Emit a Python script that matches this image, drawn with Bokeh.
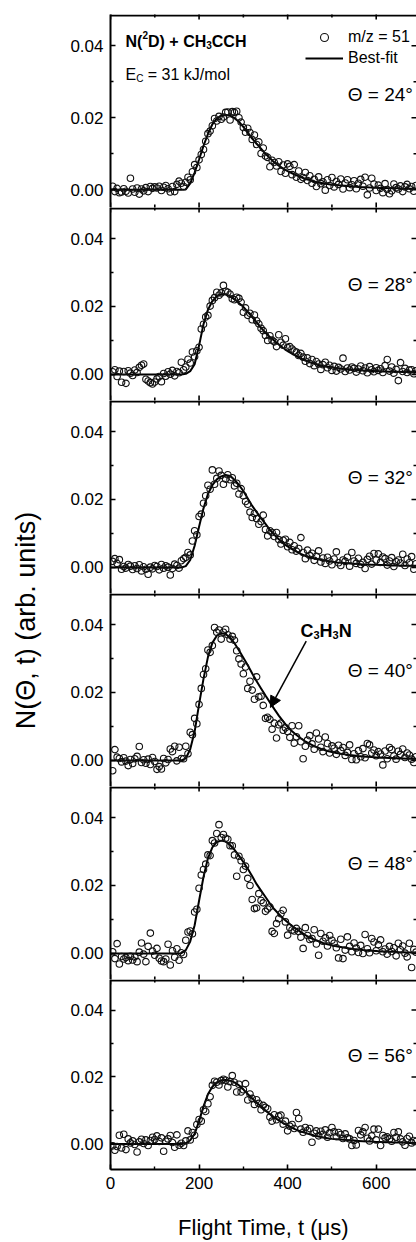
import math
from bokeh.plotting import figure
from bokeh.layouts import column, row
from bokeh.models import (Range1d, FixedTicker, PrintfTickFormatter, BoxAnnotation,
                          Legend, LegendItem, Arrow, NormalHead, Label)
from bokeh.core.properties import value
from bokeh.embed import file_html
from bokeh.resources import INLINE

FONT = "Liberation Sans"

# ---------------- data (signal values in units of 1e-3, arb. units) ----------------
t_data = list(range(5, 695, 5))      # flight time of data channels, µs (138)
t_fit = list(range(0, 700, 10))      # flight time of best-fit curve, µs (70)

angles = ["24", "28", "32", "40", "48", "56"]

data_24 = [1.0, -0.5, 0.4, -0.8, -0.6, 0.3, -0.4, -0.9, 3.2, 0.2,
           -0.7, 0.5, -1.2, 0.2, -0.3, 0.6, -0.5, 0.9, 0.4, 0.8,
           0.5, 1.0, -0.2, 0.7, 1.2, 0.3, -0.6, 0.9, -0.5, 1.5,
           2.4, 1.8, 0.9, 2.1, 3.5, 2.8, 5.0, 7.0, 6.2, 8.3,
           9.8, 11.2, 13.5, 15.6, 16.3, 17.8, 19.8, 19.1, 20.4, 19.6,
           20.2, 21.5, 21.6, 19.4, 21.7, 21.5, 21.8, 20.0, 18.8, 17.3,
           16.0, 17.1, 15.9, 14.0, 15.2, 12.6, 13.3, 10.1, 11.6, 9.4,
           9.0, 6.4, 8.2, 7.6, 6.6, 7.8, 5.1, 6.9, 4.6, 7.2,
           6.5, 4.2, 7.0, 3.5, 5.2, 2.9, 3.4, 4.8, 2.6, 3.9,
           1.8, 2.9, 0.9, 3.6, 1.7, 2.2, -0.1, 2.8, 1.2, 3.4,
           0.8, 2.3, 1.5, 3.0, 0.2, 1.9, 2.8, 0.6, 1.4, 2.5,
           0.3, 1.8, 2.9, 1.0, 3.5, -1.4, 0.5, 3.2, 1.6, -0.2,
           1.3, 0.4, -0.8, 1.7, 0.1, -1.1, -0.3, 1.6, 0.6, 0.2,
           1.1, -0.5, 0.8, 1.5, 0.3, 0.9, -0.4, 1.2]
data_28 = [0.8, 1.4, -0.6, 1.0, -2.3, 0.9, -2.6, 1.1, 0.4, -0.3,
           1.3, 0.6, 2.1, 2.7, 3.1, -1.4, -1.9, -2.4, -2.8, -2.2,
           -1.3, -0.6, -2.1, 0.3, -0.5, 0.8, 0.1, 1.2, -0.4, 0.9,
           0.5, 3.6, 1.4, 2.2, 4.5, 3.4, 6.6, 5.2, 7.0, 8.0,
           13.4, 14.8, 16.9, 17.4, 20.1, 21.8, 22.6, 24.2, 23.3, 24.0,
           26.2, 24.5, 24.2, 23.6, 22.3, 22.0, 22.7, 22.4, 21.3, 18.3,
           19.6, 17.4, 18.0, 16.1, 17.5, 15.8, 14.9, 13.6, 12.9, 11.5,
           10.0, 11.4, 10.1, 9.6, 8.2, 11.7, 9.5, 8.6, 10.5, 7.9,
           8.2, 7.5, 6.9, 6.6, 5.6, 6.2, 5.1, 3.9, 4.9, 3.2,
           4.4, 2.6, 3.8, 3.1, 1.5, 2.9, 3.6, 2.0, 2.7, 1.2,
           2.4, 1.0, 2.1, 1.6, 4.8, 0.9, 1.9, 1.3, 2.2, 1.8,
           0.7, 1.6, 2.5, 1.1, 1.9, 0.5, 2.3, 1.4, 0.8, 2.0,
           1.2, 1.7, 0.6, 2.6, 4.4, 1.0, 2.2, 0.4, 1.5, -1.8,
           3.5, 0.9, 1.8, 0.6, 1.3, 1.4, 0.2, 1.1]
data_32 = [1.8, 2.6, 1.2, 2.3, -0.5, 0.3, -0.2, 0.9, 0.4, -0.6,
           0.5, -0.3, 0.8, -1.0, 0.2, -0.5, -2.0, 0.1, -0.4, 0.6,
           0.3, -0.7, 0.9, -0.2, 0.5, 0.1, -2.2, -0.3, 1.0, 0.6,
           -0.2, 2.0, 2.6, 3.0, 4.4, 3.7, 7.8, 10.8, 9.6, 15.0,
           15.7, 18.9, 21.1, 24.2, 23.0, 28.7, 24.5, 26.2, 28.4, 27.1,
           24.5, 26.0, 27.3, 25.8, 26.4, 24.0, 24.8, 21.6, 23.2, 21.1,
           19.4, 18.6, 16.3, 14.7, 15.9, 14.4, 12.7, 13.5, 15.4, 11.2,
           9.3, 10.8, 10.3, 9.1, 10.3, 8.2, 6.9, 8.0, 8.3, 6.1,
           7.4, 5.2, 6.4, 4.8, 5.6, 8.8, 4.4, 2.6, 5.1, 3.5,
           4.2, 2.1, 3.3, 4.9, 1.6, 2.8, 1.2, 3.0, 1.9, 0.8,
           2.5, 4.6, 1.4, 0.6, 2.2, 1.8, 3.0, 0.4, 4.4, 1.9,
           1.2, 2.7, 0.9, 1.5, -0.3, 2.4, 3.3, 1.0, 4.1, 2.2,
           4.0, 1.5, 3.1, 2.6, 0.7, 1.9, 2.9, 0.3, 1.7, 2.2,
           1.3, 3.9, 0.6, 2.5, 1.4, 3.2, -0.5, 1.1]
data_40 = [-3.0, 3.2, 1.0, 0.6, -0.4, 0.8, -0.2, -1.5, 0.3, -0.9,
           0.5, 1.2, 4.1, -0.6, 0.2, -0.8, 0.4, -1.2, 0.9, -0.3,
           -2.6, -1.8, -2.5, 0.6, -0.7, 0.3, 3.4, 2.6, 4.2, -0.1,
           3.9, 0.6, 0.5, 4.2, 2.0, 8.3, 7.6, 12.4, 10.8, 16.5,
           21.2, 25.3, 27.0, 32.5, 31.8, 33.8, 39.1, 37.7, 38.4, 35.7,
           37.7, 38.6, 37.0, 35.7, 36.5, 35.4, 32.3, 29.9, 28.4, 25.5,
           27.5, 21.2, 23.3, 20.7, 18.0, 24.6, 18.7, 18.9, 16.2, 12.4,
           12.7, 12.1, 9.2, 11.0, 6.6, 10.5, 11.0, 8.9, 9.6, 8.5,
           6.8, 10.2, 5.1, 7.0, 10.2, 5.5, 0.5, 4.2, 6.0, 7.3,
           4.9, 3.3, 8.1, 6.3, 3.9, 2.6, 6.9, 5.0, 2.2, 4.3,
           3.6, 1.8, 4.5, 2.9, 3.8, 1.5, 2.4, 4.6, 0.3, 2.0,
           0.2, 2.9, 1.1, 3.5, 0.8, 5.0, 4.6, 2.2, 3.1, 1.4,
           2.6, 1.9, -1.3, 2.8, 0.5, 3.8, 3.2, 1.3, 0.4, 2.7,
           1.8, 3.4, 0.9, 2.2, 1.6, 0.4, -0.6, 1.1]
data_48 = [0.5, -1.5, 2.9, -3.1, -0.9, -1.6, -1.2, -2.1, -0.8, -1.9,
           -1.0, -2.4, 0.4, 3.1, -0.2, -2.4, 2.1, 6.0, 0.7, -0.5,
           1.5, -1.4, -2.2, -2.4, -1.6, 2.7, -3.4, 0.8, -1.1, 1.4,
           -2.0, 0.2, -0.3, 3.9, 6.3, 6.6, 5.8, 12.2, 13.0, 19.2,
           23.1, 24.7, 26.3, 29.0, 28.8, 33.2, 32.5, 35.3, 37.9, 34.1,
           35.0, 33.9, 33.6, 31.7, 31.7, 29.0, 22.7, 28.6, 27.3, 24.7,
           25.7, 22.1, 20.0, 15.9, 13.2, 13.4, 17.6, 15.6, 14.9, 12.4,
           13.1, 13.7, 6.5, 5.9, 8.8, 10.2, 11.7, 12.7, 9.3, 5.4,
           7.6, 6.9, 6.6, 7.4, 6.5, 4.8, 1.5, 7.6, 5.3, 4.1,
           4.4, 7.0, 2.8, -0.5, 5.9, 3.6, 4.6, 2.2, 5.3, 3.9,
           3.0, 1.7, -1.3, 4.2, -1.5, 1.0, 4.9, 2.1, 0.5, 3.1,
           1.6, 0.3, 2.4, 0.0, 5.6, 1.4, 0.2, 4.4, 3.4, 0.8,
           2.6, 4.0, 0.5, 1.3, -0.2, 2.1, 0.6, 1.7, -0.7, 3.0,
           1.1, 2.2, 0.1, -1.0, 3.0, -4.1, 1.2, 0.4]
data_56 = [-0.6, -1.9, -0.8, 2.6, -1.2, 2.9, -1.7, 1.5, 0.3, 0.9,
           -0.2, -2.4, 0.6, 1.4, 0.1, 1.2, -0.5, 1.0, 2.0, 1.3,
           2.4, 0.7, 1.8, -2.2, 0.8, 1.5, 2.5, 0.4, -1.0, 2.7,
           -0.4, 0.2, -0.5, 0.9, 3.9, 1.2, 3.4, 2.6, 5.8, 7.3,
           6.8, 10.2, 9.7, 12.0, 14.1, 17.5, 18.7, 18.4, 17.6, 18.9,
           19.3, 19.0, 17.0, 18.6, 20.4, 18.4, 15.5, 17.8, 15.5, 16.2,
           18.0, 13.1, 14.9, 13.6, 11.8, 13.2, 12.1, 10.2, 11.5, 10.9,
           10.5, 8.0, 6.8, 8.7, 7.2, 8.3, 8.6, 5.9, 6.8, 3.9,
           5.3, 5.8, 4.6, 9.4, 7.6, 4.4, 3.5, 4.9, 4.0, 4.6,
           0.5, 3.2, 3.9, 2.4, 3.8, 2.9, 4.2, 2.0, 3.3, 4.9,
           3.6, 2.2, 3.4, 2.8, 1.6, 3.0, 1.8, 1.5, -0.5, 1.0,
           -0.3, 4.0, 2.7, 3.6, 4.9, 1.7, 0.9, 2.4, 4.4, 1.2,
           4.4, -0.5, 2.5, 1.8, 2.1, 1.5, 0.8, 3.4, 2.0, 3.6,
           1.5, 0.6, -0.4, 1.6, 2.3, 0.3, 1.0, 0.7]

fit_24 = [0.0] * 17 + [0.1, 1.8, 4.8, 8.4, 12.2, 15.5, 18.2, 19.8, 20.6, 20.8,
                       20.6, 19.9, 18.9, 17.5, 15.9, 14.2, 12.8, 11.4, 10.0, 8.8,
                       7.6, 6.7, 5.9, 5.2, 4.6, 4.0, 3.5, 3.0, 2.7, 2.3,
                       2.0, 1.8, 1.6, 1.4, 1.3, 1.2, 1.1, 1.0, 0.9, 0.8,
                       0.7, 0.7, 0.6, 0.6, 0.5, 0.5, 0.4, 0.4, 0.4, 0.3,
                       0.3, 0.3, 0.3]
fit_28 = [0.0] * 17 + [0.2, 1.0, 3.0, 8.5, 14.8, 19.0, 21.6, 23.0, 23.6, 23.6,
                       23.0, 22.1, 21.0, 19.9, 18.4, 16.9, 15.3, 13.7, 12.3, 11.0,
                       9.9, 8.8, 7.8, 6.9, 6.1, 5.4, 4.7, 4.1, 3.6, 3.2,
                       2.8, 2.5, 2.3, 2.1, 1.9, 1.8, 1.6, 1.5, 1.4, 1.3,
                       1.2, 1.1, 1.0, 1.0, 0.9, 0.9, 0.8, 0.8, 0.8, 0.7,
                       0.7, 0.7, 0.7]
fit_32 = [0.0] * 17 + [0.4, 2.2, 6.4, 12.0, 17.4, 21.6, 24.2, 25.9, 26.8, 27.2,
                       26.9, 25.8, 24.3, 22.5, 20.3, 18.1, 16.3, 14.5, 12.8, 11.1,
                       9.6, 8.3, 7.1, 6.2, 5.4, 4.7, 4.0, 3.4, 3.0, 2.6,
                       2.4, 2.1, 1.9, 1.7, 1.5, 1.4, 1.3, 1.2, 1.1, 1.0,
                       0.9, 0.9, 0.8, 0.8, 0.7, 0.7, 0.6, 0.6, 0.6, 0.5,
                       0.5, 0.5, 0.5]
fit_40 = [0.0] * 17 + [0.6, 3.3, 8.5, 16.5, 24.0, 30.4, 34.6, 36.7, 37.4, 37.2,
                       36.1, 34.5, 32.4, 30.2, 28.0, 25.6, 23.3, 21.2, 19.1, 17.1,
                       15.1, 13.2, 11.5, 9.9, 8.6, 7.5, 6.5, 5.6, 4.9, 4.2,
                       3.7, 3.2, 2.8, 2.5, 2.2, 2.0, 1.8, 1.6, 1.5, 1.3,
                       1.2, 1.1, 1.0, 0.9, 0.8, 0.8, 0.7, 0.7, 0.6, 0.6,
                       0.5, 0.5, 0.5]
fit_48 = [0.0] * 16 + [0.1, 1.0, 3.5, 8.3, 15.5, 22.5, 28.0, 31.2, 32.8, 33.2,
                       32.9, 31.9, 30.5, 28.8, 26.9, 24.9, 22.7, 20.4, 18.5, 16.6,
                       14.7, 13.0, 11.6, 10.3, 9.2, 8.1, 7.2, 6.3, 5.4, 4.7,
                       4.1, 3.6, 3.1, 2.7, 2.4, 2.1, 1.9, 1.7, 1.5, 1.3,
                       1.2, 1.0, 0.9, 0.8, 0.7, 0.6, 0.6, 0.5, 0.5, 0.4,
                       0.4, 0.3, 0.3, 0.3]
fit_56 = [0.0] * 17 + [0.2, 1.1, 3.0, 6.8, 11.2, 14.8, 17.1, 18.4, 19.0, 19.1,
                       18.9, 18.4, 17.5, 16.3, 14.9, 13.6, 12.3, 11.2, 10.0, 8.9,
                       7.9, 7.0, 6.2, 5.5, 4.8, 4.2, 3.7, 3.3, 2.9, 2.5,
                       2.2, 1.9, 1.7, 1.5, 1.4, 1.3, 1.2, 1.1, 1.0, 0.9,
                       0.8, 0.7, 0.7, 0.6, 0.6, 0.5, 0.5, 0.4, 0.4, 0.4,
                       0.3, 0.3, 0.3]

data_all = [data_24, data_28, data_32, data_40, data_48, data_56]
fit_all = [fit_24, fit_28, fit_32, fit_40, fit_48, fit_56]

x_ticks = [0, 200, 400, 600]
x_minor = [100, 300, 500]
y_ticks = [0.0, 0.02, 0.04]
y_minor = [0.01, 0.03]

# ---------------- layout parameters ----------------
XMAX = 691
FRAME_H = 193
Y_RANGES = [(-0.00492, 0.04869)] + [(-0.00765, 0.04912)] * 5
YLAB_W = 58
PANEL_W = 358
LEFT_B = 52
TOP_B = 14
BOTTOM_B = 70
EDGE_PX = 2


def style_axis(ax, ticker, minor, fmt):
    ax.ticker = FixedTicker(ticks=ticker, minor_ticks=minor)
    ax.formatter = PrintfTickFormatter(format=fmt)
    ax.axis_line_width = 2
    ax.axis_line_color = "black"
    ax.major_tick_in = 5
    ax.major_tick_out = 0
    ax.minor_tick_in = 3
    ax.minor_tick_out = 0
    ax.major_tick_line_width = 1.6
    ax.minor_tick_line_width = 1.4
    ax.major_tick_line_color = "black"
    ax.minor_tick_line_color = "black"
    ax.major_label_text_font = FONT
    ax.major_label_text_font_size = "17px"
    ax.major_label_text_color = "black"
    ax.major_label_standoff = 7


def edge_ticks(p, ymin, ymax, bottom):
    # inward tick marks on the top, right (and bottom) edges of a panel
    kw = dict(marker="dash", line_color="black", line_width=1.6)
    p.scatter(x_ticks, [ymax] * len(x_ticks), angle=math.pi / 2, size=10, **kw)
    p.scatter(x_minor, [ymax] * len(x_minor), angle=math.pi / 2, size=6, **kw)
    if bottom:
        p.scatter(x_ticks, [ymin] * len(x_ticks), angle=math.pi / 2, size=10, **kw)
        p.scatter(x_minor, [ymin] * len(x_minor), angle=math.pi / 2, size=6, **kw)
    p.scatter([XMAX] * len(y_ticks), y_ticks, size=10, **kw)
    p.scatter([XMAX] * len(y_minor), y_minor, size=6, **kw)


panels = []
for i in range(6):
    first = i == 0
    last = i == 5
    ymin, ymax = Y_RANGES[i]
    h = FRAME_H + (TOP_B if first else 0) + (BOTTOM_B if last else 0)
    p = figure(width=PANEL_W, height=h, output_backend="svg", toolbar_location=None,
               x_range=Range1d(0, XMAX), y_range=Range1d(ymin, ymax),
               min_border_left=LEFT_B, min_border_right=0,
               min_border_top=TOP_B if first else 0,
               min_border_bottom=BOTTOM_B if last else 0,
               x_axis_location="below" if last else None, y_axis_location="left",
               outline_line_color=None, background_fill_color="white",
               border_fill_color="white")
    p.xgrid.visible = False
    p.ygrid.visible = False
    style_axis(p.yaxis[0], y_ticks, y_minor, "%.2f")
    if last:
        xa = p.xaxis[0]
        style_axis(xa, x_ticks, x_minor, "%d")
        xa.axis_label = "Flight Time, t (\u03bcs)"
        xa.axis_label_text_font = FONT
        xa.axis_label_text_font_size = "22px"
        xa.axis_label_text_font_style = "normal"
        xa.axis_label_text_color = "black"
        xa.axis_label_standoff = 23
    # solid top border of the panel (also the divider to the panel above)
    edge = (ymax - ymin) / FRAME_H * EDGE_PX
    p.add_layout(BoxAnnotation(top=ymax, bottom=ymax - edge, fill_color="black",
                               fill_alpha=1.0, line_color=None))
    edge_ticks(p, ymin, ymax, not last)

    ys = [v * 1e-3 for v in data_all[i]]
    yf = [v * 1e-3 for v in fit_all[i]]
    ln = p.line(t_fit, yf, line_color="black", line_width=2)
    sc = p.scatter(t_data, ys, marker="circle", size=6.5, fill_color=None,
                   line_color="#111111", line_width=1.1)

    p.text(x=[683], y=[0.0265], text=["\u0398 = " + angles[i] + "\u00b0"],
           text_font=value(FONT), text_font_size="19px", text_align="right",
           text_baseline="middle", text_color="black")

    if first:
        legend = Legend(items=[LegendItem(label="m/z = 51", renderers=[sc]),
                               LegendItem(label="Best-fit", renderers=[ln])],
                        location=(195, 139), glyph_width=38, glyph_height=20,
                        label_height=20, label_standoff=5, spacing=1, padding=0,
                        margin=0, border_line_color=None, background_fill_alpha=0,
                        label_text_font=FONT, label_text_font_size="16px",
                        label_text_color="black")
        p.add_layout(legend)
        # title: N(2D) + CH3CCH
        title_parts = ["N(", "2", "D) + CH", "3", "CCH"]
        title_dx = [0, 16.9, 22.5, 80.7, 86.3]
        title_dy = [0, -6, 0, 4, 0]
        title_fs = ["16px", "10px", "16px", "10px", "16px"]
        for s, dx, dy, fs in zip(title_parts, title_dx, title_dy, title_fs):
            p.text(x=[33.9], y=[0.0412], text=[s], x_offset=dx, y_offset=dy,
                   text_font=value(FONT), text_font_style="bold", text_font_size=fs,
                   text_baseline="alphabetic", text_color="black")
        ec_parts = ["E", "C", "= 31 kJ/mol"]
        ec_dx = [0, 10.7, 22.3]
        ec_dy = [0, 4, 0]
        ec_fs = ["16px", "10px", "16px"]
        for s, dx, dy, fs in zip(ec_parts, ec_dx, ec_dy, ec_fs):
            p.text(x=[33.9], y=[0.032], text=[s], x_offset=dx, y_offset=dy,
                   text_font=value(FONT), text_font_size=fs,
                   text_baseline="alphabetic", text_color="black")

    if i == 3:
        prod_parts = ["C", "3", "H", "3", "N"]
        prod_dx = [0, 13.0, 19.1, 32.1, 38.2]
        prod_dy = [0, 4, 0, 4, 0]
        prod_fs = ["18px", "11px", "18px", "11px", "18px"]
        for s, dx, dy, fs in zip(prod_parts, prod_dx, prod_dy, prod_fs):
            p.text(x=[429], y=[0.0381], text=[s], x_offset=dx, y_offset=dy,
                   text_font=value(FONT), text_font_style="bold", text_font_size=fs,
                   text_baseline="alphabetic", text_color="black")
        p.add_layout(Arrow(end=NormalHead(size=11, fill_color="black", line_color="black"),
                           x_start=442, y_start=0.0351, x_end=361, y_end=0.0156,
                           line_width=1.5, line_color="black"))
    panels.append(p)

total_h = sum(pp.height for pp in panels)
ylab = figure(width=YLAB_W, height=total_h, output_backend="svg",
              toolbar_location=None, x_range=Range1d(0, YLAB_W),
              y_range=Range1d(0, total_h),
              min_border=0, outline_line_color=None,
              x_axis_location=None, y_axis_location=None)
ylab.xgrid.visible = False
ylab.ygrid.visible = False
ylab.add_layout(Label(x=25, y=total_h - 620, text="N(\u0398, t) (arb. units)",
                      angle=math.pi / 2, text_align="center", text_baseline="middle",
                      text_font=FONT, text_font_size="27px", text_color="black"))

layout = row(ylab, column(*panels))
open("out.html", "w").write(file_html(layout, INLINE))
